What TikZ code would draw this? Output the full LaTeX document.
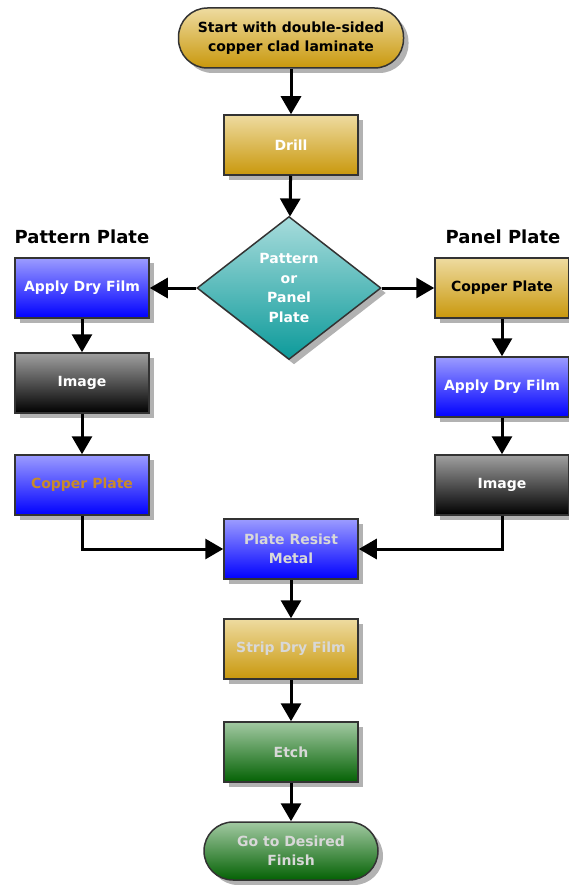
\documentclass[tikz,border=0pt]{standalone}
\usepackage{fontspec}
\setmainfont{DejaVu Sans}
\usepackage{tikz}
\usetikzlibrary{shapes, shadows, arrows.meta}

\definecolor{golda}{HTML}{EEDBA0}
\definecolor{goldb}{HTML}{C9980C}
\definecolor{bluea}{HTML}{9C9CFF}
\definecolor{blueb}{HTML}{0000FF}
\definecolor{greya}{HTML}{A0A0A0}
\definecolor{greyb}{HTML}{000000}
\definecolor{greena}{HTML}{A2C9A2}
\definecolor{greenb}{HTML}{046204}
\definecolor{teala}{HTML}{A8DCDC}
\definecolor{tealb}{HTML}{0C9A9A}
\definecolor{orangetext}{HTML}{C88A2A}
\definecolor{palegrey}{HTML}{D8D8D8}

\begin{document}
\begin{tikzpicture}[x=1pt, y=-1pt,
        box/.style={draw=black!80, line width=1.5pt, minimum width=134pt, minimum height=60pt,
            align=center, font=\fontsize{14}{19.5}\selectfont\bfseries,
            drop shadow={shadow xshift=5pt, shadow yshift=-5pt, fill=black!30, opacity=1}},
        term/.style={box, rounded corners=29pt},
        gold/.style={top color=golda, bottom color=goldb},
        blue/.style={top color=bluea, bottom color=blueb},
        dark/.style={top color=greya, bottom color=greyb},
        green/.style={top color=greena, bottom color=greenb},
        head/.style={font=\fontsize{18}{20}\selectfont\bfseries},
        arr/.style={line width=3pt, -{Triangle[length=18pt, width=20pt]}}]
        \useasboundingbox (0, 0) rectangle (569, 885);

        \node [term, gold, minimum width=225pt, text=black] (M1) at (291, 38) {Start with double-sided\\copper clad laminate};
        \node [box, gold, text=white] (M2) at (291, 145) {Drill};
        \node [box, diamond, inner sep=0pt, minimum width=184pt, minimum height=143pt,
            top color=teala, bottom color=tealb, text=white] (M3) at (289, 288) {Pattern\\or\\Panel\\Plate};
        \node [box, blue, text=palegrey] (M4) at (291, 549) {Plate Resist\\Metal};
        \node [box, gold, text=palegrey] (M5) at (291, 649) {Strip Dry Film};
        \node [box, green, text=palegrey] (M6) at (291, 752) {Etch};
        \node [term, green, minimum width=174pt, minimum height=58pt, text=palegrey] (M7) at (291, 851) {Go to Desired\\Finish};

        \node [head] (H1) at (82, 237) {Pattern Plate};
        \node [box, blue, text=white] (L1) at (82, 288) {Apply Dry Film};
        \node [box, dark, text=white] (L2) at (82, 383) {Image};
        \node [box, blue, text=orangetext] (L3) at (82, 485) {Copper Plate};

        \node [head] (H2) at (503, 237) {Panel Plate};
        \node [box, gold, text=black] (R1) at (502, 288) {Copper Plate};
        \node [box, blue, text=white] (R2) at (502, 387) {Apply Dry Film};
        \node [box, dark, text=white] (R3) at (502, 485) {Image};

        \draw [arr] (M1) -- (M2);
        \draw [arr] (M2) -- (M3);
        \draw [arr] (M3) -- (L1);
        \draw [arr] (M3) -- (R1);
        \draw [arr] (L1) -- (L2);
        \draw [arr] (L2) -- (L3);
        \draw [arr] (R1) -- (R2);
        \draw [arr] (R2) -- (R3);
        \draw [arr] (L3) |- (M4);
        \draw [arr] (R3) |- (M4);
        \draw [arr] (M4) -- (M5);
        \draw [arr] (M5) -- (M6);
        \draw [arr] (M6) -- (M7);
    \end{tikzpicture}
\end{document}
